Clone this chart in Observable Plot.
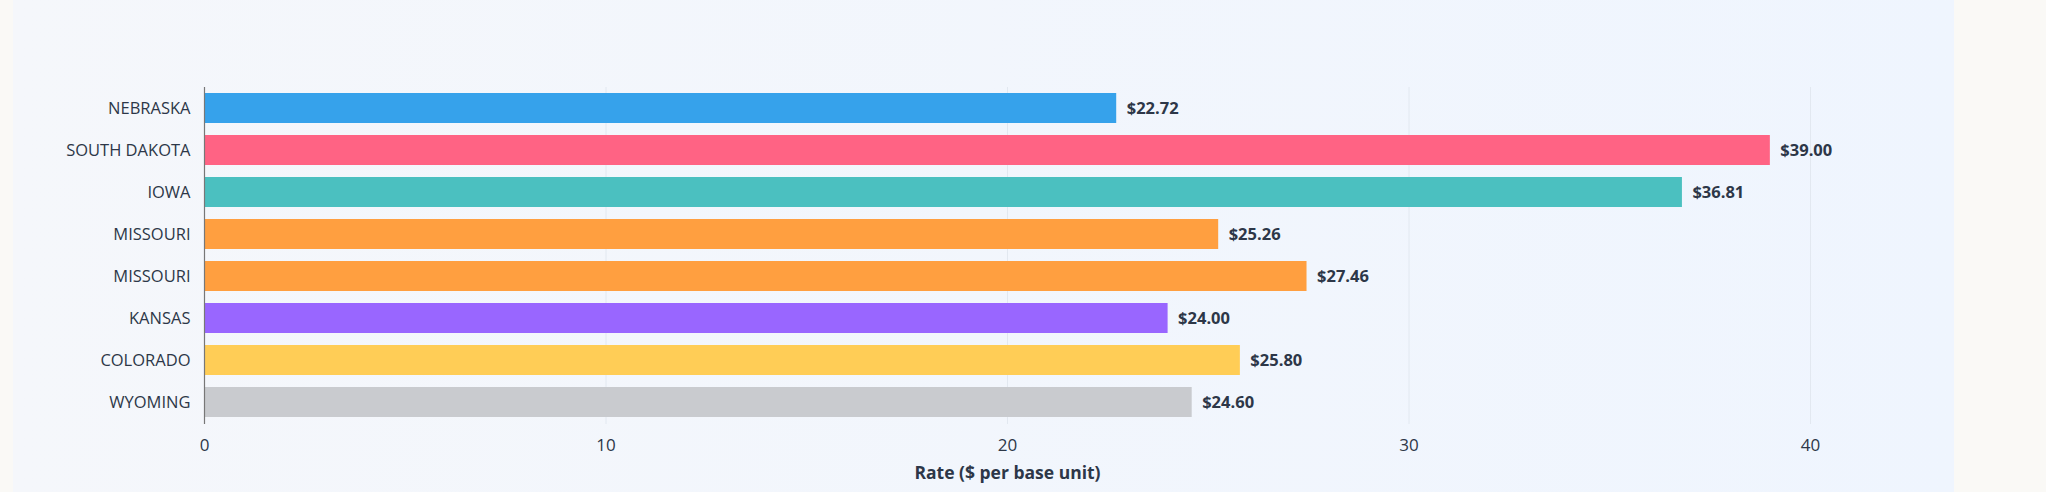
<!DOCTYPE html>
<html><head><meta charset="utf-8">
<script src="https://cdn.jsdelivr.net/npm/d3@7"></script>
<script src="https://cdn.jsdelivr.net/npm/@observablehq/plot@0.6"></script>
<style>
html,body{margin:0;padding:0;background:#faf9f6;}
#wrap{position:relative;width:2046px;height:492px;}
#panel{position:absolute;left:13px;top:0;width:1941px;height:492px;background:linear-gradient(90deg,#f5f7fb,#eff5fe);}
#chart{position:absolute;left:0;top:0;}
g[aria-label="x-axis label"] text{font-weight:bold;font-size:17.5px;}
</style></head><body>
<div id="wrap"><div id="panel"></div><div id="chart"></div></div>
<script>
const states = ["NEBRASKA","SOUTH DAKOTA","IOWA","MISSOURI","MISSOURI","KANSAS","COLORADO","WYOMING"];
const rates = [22.72,39.00,36.81,25.26,27.46,24.00,25.80,24.60];
const colors = ["#36a2eb","#ff6384","#4bc0c0","#ff9f40","#ff9f40","#9966ff","#ffcd56","#c9cbcf"];
const xTicks = [0,10,20,30,40];
const xLabel = "Rate ($ per base unit)";

const data = states.map((s,i)=>({i, state:s, rate:rates[i], color:colors[i]}));
const font = "'Segoe UI','Open Sans',sans-serif";
const plot = Plot.plot({
  width:2046, height:492,
  marginLeft:204, marginRight:236, marginTop:87, marginBottom:68,
  style:{background:"transparent", fontFamily:font, fontSize:"16px", color:"#2d3748", overflow:"visible"},
  x:{domain:[0,40], ticks:xTicks, label:xLabel},
  y:{domain:d3.range(states.length), paddingInner:0.28, paddingOuter:0.14, tickFormat:i=>states[i], label:null},
  marks:[
    Plot.gridX(xTicks.filter(t=>t>0), {stroke:"#e2e8f0", strokeOpacity:1}),
    Plot.barX(data,{x:"rate", y:"i", fill:"color"}),
    Plot.ruleX([0],{stroke:"#777", strokeWidth:1.2}),
    Plot.text(data,{x:"rate", y:"i", text:d=>"$"+d.rate.toFixed(2), textAnchor:"start", dx:10, fontWeight:"bold", fill:"#2d3748", fontSize:16.5}),
    Plot.axisY({tickSize:0, tickPadding:14, tickFormat:i=>states[i], label:null, fontSize:16.5}),
    Plot.axisX({ticks:xTicks, tickSize:0, tickPadding:14, label:xLabel, labelArrow:"none", labelAnchor:"center", labelOffset:54, fontSize:17})
  ]
});
document.getElementById("chart").appendChild(plot);
</script>
</body></html>
